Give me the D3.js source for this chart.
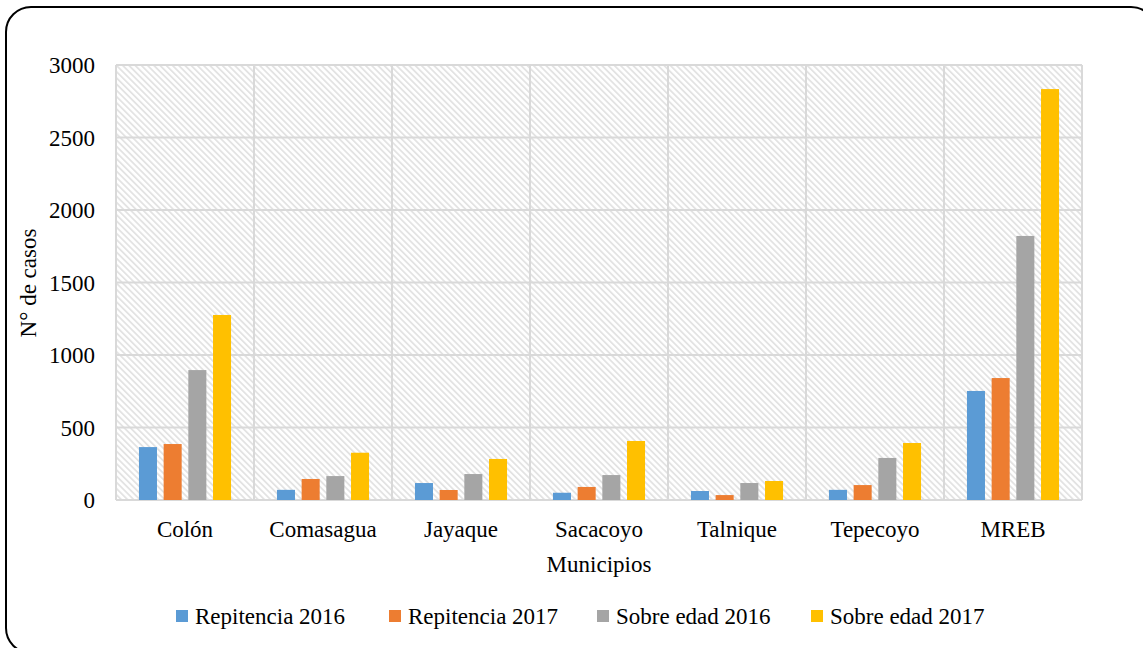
<!DOCTYPE html>
<html>
<head>
<meta charset="utf-8">
<script src="https://cdn.jsdelivr.net/npm/d3@7"></script>
<style>
  body { margin: 0; background: #fff; }
</style>
</head>
<body>
<div id="chart"></div>
<script>
// data
const municipios = ["Colón", "Comasagua", "Jayaque", "Sacacoyo", "Talnique", "Tepecoyo", "MREB"];
const seriesNames = ["Repitencia 2016", "Repitencia 2017", "Sobre edad 2016", "Sobre edad 2017"];
const repitencia2016 = [365, 70, 117, 50, 62, 70, 752];
const repitencia2017 = [386, 145, 69, 90, 34, 103, 841];
const sobreEdad2016 = [896, 165, 179, 172, 117, 290, 1821];
const sobreEdad2017 = [1276, 326, 283, 407, 131, 393, 2834];
const yTicks = [0, 500, 1000, 1500, 2000, 2500, 3000];
const colors = ["#5b9bd5", "#ed7d31", "#a5a5a5", "#ffc000"];

const allSeries = [repitencia2016, repitencia2017, sobreEdad2016, sobreEdad2017];

const width = 1143, height = 648;
const margin = {left: 116, right: 61, top: 65, bottom: 148};
const serif = "'Liberation Serif', 'DejaVu Serif', 'Times New Roman', serif";

const svg = d3.select("#chart").append("svg")
    .attr("width", width)
    .attr("height", height)
    .attr("font-family", serif)
    .style("font-family", serif);

// hatch pattern for the plot background
const defs = svg.append("defs");
const pat = defs.append("pattern")
    .attr("id", "hatch")
    .attr("patternUnits", "userSpaceOnUse")
    .attr("width", 4.4)
    .attr("height", 10)
    .attr("patternTransform", "rotate(-45)");
pat.append("rect")
    .attr("width", 4.4).attr("height", 10).attr("fill", "#fff");
pat.append("rect")
    .attr("width", 1.8).attr("height", 10).attr("fill", "#e3e3e3");

// outer rounded frame
svg.append("rect")
    .attr("x", 6).attr("y", 7)
    .attr("width", 1150).attr("height", 646)
    .attr("rx", 25).attr("ry", 25)
    .attr("fill", "none")
    .attr("stroke", "#000")
    .attr("stroke-width", 2);

const x0 = d3.scaleBand()
    .domain(municipios)
    .range([margin.left, width - margin.right]);

const x1 = d3.scaleBand()
    .domain(d3.range(seriesNames.length))
    .range([0, x0.bandwidth()])
    .paddingInner(0.27)
    .paddingOuter(0.93);

const y = d3.scaleLinear()
    .domain([0, 3000])
    .range([height - margin.bottom, margin.top]);

// plot background
svg.append("rect")
    .attr("x", margin.left).attr("y", margin.top)
    .attr("width", width - margin.left - margin.right)
    .attr("height", y(0) - margin.top)
    .attr("fill", "url(#hatch)");

// horizontal gridlines
svg.append("g").selectAll("line")
  .data(yTicks)
  .join("line")
    .attr("x1", margin.left).attr("x2", width - margin.right)
    .attr("y1", d => y(d)).attr("y2", d => y(d))
    .attr("stroke", "#d9d9d9")
    .attr("stroke-width", 2);

// vertical gridlines at category boundaries
const bounds = municipios.map(m => x0(m)).concat([x0.range()[1]]);
svg.append("g").selectAll("line")
  .data(bounds)
  .join("line")
    .attr("x1", d => d).attr("x2", d => d)
    .attr("y1", margin.top).attr("y2", y(0))
    .attr("stroke", "#d9d9d9")
    .attr("stroke-width", 2);

// bars
const groups = svg.append("g").selectAll("g")
  .data(municipios)
  .join("g")
    .attr("transform", d => "translate(" + x0(d) + ",0)");

groups.selectAll("rect")
  .data((d, i) => allSeries.map((s, k) => ({k: k, v: s[i]})))
  .join("rect")
    .attr("x", d => x1(d.k))
    .attr("y", d => y(d.v))
    .attr("width", x1.bandwidth())
    .attr("height", d => y(0) - y(d.v))
    .attr("fill", d => colors[d.k]);

// y axis labels
svg.append("g").selectAll("text")
  .data(yTicks)
  .join("text")
    .attr("x", 95)
    .attr("y", d => y(d))
    .attr("dy", "0.35em")
    .attr("text-anchor", "end")
    .attr("font-size", 23)
    .text(d => d);

// x axis labels
svg.append("g").selectAll("text")
  .data(municipios)
  .join("text")
    .attr("x", d => x0(d) + x0.bandwidth() / 2)
    .attr("y", 537)
    .attr("text-anchor", "middle")
    .attr("font-size", 23)
    .text(d => d);

// axis titles
svg.append("text")
    .attr("x", 599).attr("y", 572)
    .attr("text-anchor", "middle")
    .attr("font-size", 23)
    .text("Municipios");

svg.append("text")
    .attr("transform", "translate(36," + 283 + ") rotate(-90)")
    .attr("text-anchor", "middle")
    .attr("font-size", 23)
    .text("N° de casos");

// legend
const legendX = [176, 389, 597, 811];
const legend = svg.append("g").selectAll("g")
  .data(seriesNames)
  .join("g")
    .attr("transform", (d, i) => "translate(" + legendX[i] + ",0)");
legend.append("rect")
    .attr("x", 0).attr("y", 610)
    .attr("width", 12).attr("height", 12)
    .attr("fill", (d, i) => colors[i]);
legend.append("text")
    .attr("x", 19).attr("y", 624)
    .attr("font-size", 23)
    .text(d => d);
</script>
</body>
</html>
